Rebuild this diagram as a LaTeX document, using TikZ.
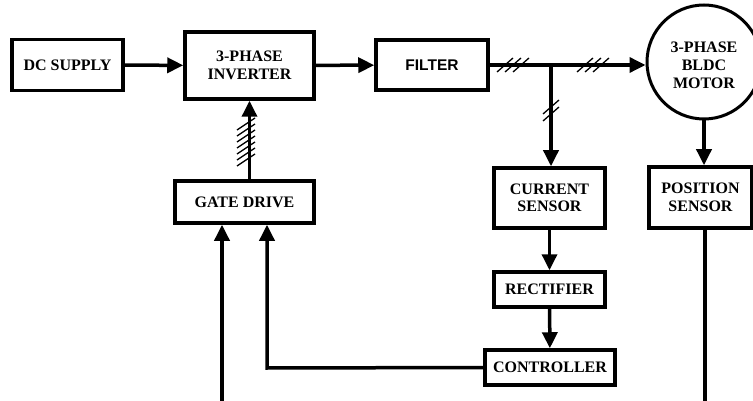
\documentclass[tikz,border=0pt]{standalone}
\usepackage{fontspec}
\setmainfont{Liberation Serif}
\newfontfamily\filterfont{Liberation Sans}
\usetikzlibrary{arrows.meta}

\begin{document}
\begin{tikzpicture}[x=1pt, y=-1pt,
    blk/.style={draw, rectangle, line width=3.5pt, align=center, inner sep=0pt,
        font=\fontsize{16}{17.5}\selectfont\bfseries},
    sig/.style={line width=3.5pt, -{Triangle[length=16pt, width=15pt]}},
    wire/.style={line width=3.5pt},
    hash/.style={line width=1.3pt}]
    \useasboundingbox (0,0) rectangle (753,401);

    % Power path
    \node[blk, minimum width=111pt, minimum height=51pt] (dc) at (67.5,65) {DC SUPPLY};
    \node[blk, minimum width=129pt, minimum height=67pt] (inv) at (249.5,65.5) {3-PHASE\\INVERTER};
    \draw[sig] (dc) -- (inv);
    \node[blk, minimum width=112pt, minimum height=50pt, font=\fontsize{15.5}{17}\selectfont\filterfont\bfseries] (filt) at (432,65) {FILTER};
    \draw[sig] (inv) -- (filt);

    % Motor
    \node[blk, circle, minimum size=114pt, line width=3pt] (motor) at (704,62) {};
    \node[font=\fontsize{16}{18}\selectfont\bfseries, align=center] (motortxt) at (704,65.5) {3-PHASE\\BLDC\\MOTOR};
    \coordinate (tap) at (551,65);
    \draw[sig] (filt.east) -- (filt.east -| motor.west);
    \foreach \x in {505,513,521,585,593,601}
        \draw[hash] (\x-8,72) -- (\x+8,58);
    \foreach \y in {107,114}
        \draw[hash] (543,\y+7) -- (559,\y-7);

    % Current feedback
    \node[blk, minimum width=111pt, minimum height=60pt] (cur) at (549.5,198) {CURRENT\\SENSOR};
    \draw[sig] (tap) -- (tap |- cur.north);
    \node[blk, minimum width=111pt, minimum height=35pt] (rect) at (549.5,289.5) {RECTIFIER};
    \draw[sig] (cur) -- (rect);
    \node[blk, minimum width=130pt, minimum height=35pt] (ctrl) at (550,367.5) {CONTROLLER};
    \draw[sig] (rect) -- (ctrl);

    % Position feedback
    \node[blk, minimum width=103pt, minimum height=61pt] (pos) at (700.5,197.5) {POSITION\\SENSOR};
    \draw[sig] (motor.south) -- (motor.south |- pos.north);
    \coordinate (posend) at (705,401);
    \draw[wire] (posend |- pos.south) -- (posend);

    % Gate drive
    \node[blk, minimum width=139pt, minimum height=42pt] (gate) at (244.5,202) {GATE DRIVE};
    \draw[sig] (gate.north -| inv.south) -- (inv.south);
    \foreach \y in {124,130,...,160}
        \draw[hash] (237,\y+6) -- (255,\y-6);
    \coordinate (ext) at (222,401);
    \draw[sig] (ext) -- (ext |- gate.south);
    \coordinate (fb) at (267,368);
    \draw[sig] (ctrl.west) -- (fb) -- (fb |- gate.south);
\end{tikzpicture}
\end{document}
